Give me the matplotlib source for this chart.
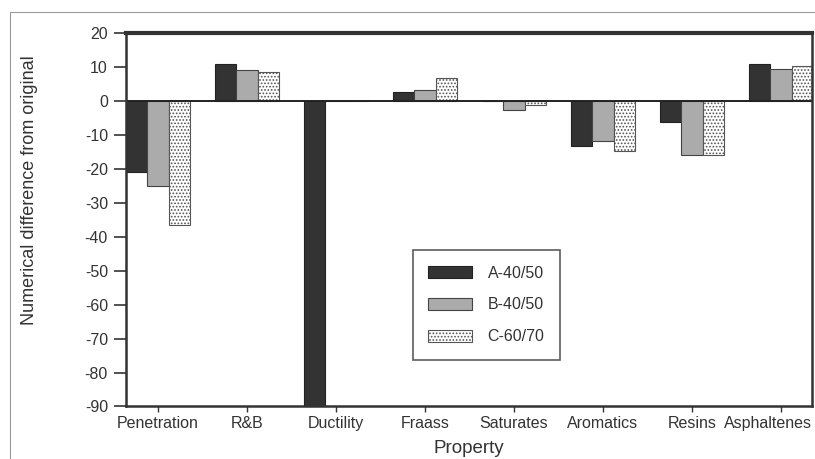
import numpy as np
import matplotlib
matplotlib.use("Agg")
import matplotlib.pyplot as plt
from matplotlib.patches import Rectangle
from matplotlib.transforms import ScaledTranslation

plt.rcParams['font.family'] = ['Liberation Sans', 'DejaVu Sans']
plt.rcParams['hatch.linewidth'] = 0.8
plt.rcParams['axes.unicode_minus'] = False

properties = ['Penetration', 'R&B', 'Ductility', 'Fraass', 'Saturates',
              'Aromatics', 'Resins', 'Asphaltenes']
a_40_50 = [-20.8, 10.8, -90, 2.6, 0, -13.2, -6.1, 11.0]
b_40_50 = [-25.0, 9.1, 0, 3.3, -2.6, -11.7, -15.8, 9.5]
c_60_70 = [-36.5, 8.6, 0, 6.9, -1.3, -14.7, -15.8, 10.2]
series_names = ['A-40/50', 'B-40/50', 'C-60/70']
y_ticks = list(range(-90, 21, 10))

fig = plt.figure(figsize=(8.15, 4.59), dpi=100)
# thin page frame
fig.patches.append(Rectangle((10 / 815, -0.05), 1.0, 1 - 12 / 459 + 0.05,
                             transform=fig.transFigure, fill=False,
                             edgecolor='#999999', linewidth=0.8))

ax = fig.add_axes([0.1546, 0.1144, 0.9963 - 0.1546, 0.928 - 0.1144])

x = np.arange(len(properties))
w = 0.24
ax.bar(x - w, a_40_50, w, color='#333333', edgecolor='#222222', linewidth=0.8,
       label=series_names[0])
ax.bar(x, b_40_50, w, color='#ababab', edgecolor='#444444', linewidth=0.8,
       label=series_names[1])
ax.bar(x + w, c_60_70, w, color='white', edgecolor='#555555', linewidth=0.8,
       hatch='.....', label=series_names[2])

ax.axhline(0, color='#222222', linewidth=1.4)

ax.set_xlim(-0.36, 7.35)
ax.set_ylim(-90, 20)
ax.set_yticks(y_ticks)
ax.set_xticks(x)
ax.set_xticklabels(properties)
ax.tick_params(axis='y', direction='out', length=9, width=1.2, labelsize=11.5,
               colors='#333333', pad=4)
ax.tick_params(axis='x', direction='out', length=4, width=1, labelsize=11.5,
               colors='#333333', pad=3)

# last label sits against the right edge
last = ax.get_xticklabels()[-1]
last.set_transform(last.get_transform() + ScaledTranslation(-0.13, 0, fig.dpi_scale_trans))

for side in ['left', 'bottom', 'right']:
    ax.spines[side].set_linewidth(1.8)
    ax.spines[side].set_color('#333333')
ax.spines['top'].set_linewidth(3)
ax.spines['top'].set_color('#333333')

ax.set_xlabel('Property', fontsize=13.5, color='#333333', labelpad=6)
ax.set_ylabel('Numerical difference from original', fontsize=13,
              color='#333333')
ax.yaxis.set_label_coords(-0.129, 0.58)

leg = ax.legend(loc='center', bbox_to_anchor=(0.5255, 0.272), fontsize=11.5,
                frameon=True, fancybox=False, edgecolor='#333333',
                handlelength=2.7, handleheight=0.8, labelspacing=1.05,
                borderpad=1.0, handletextpad=1.0, borderaxespad=0)
leg.get_frame().set_linewidth(1.2)
for t in leg.get_texts():
    t.set_color('#333333')

fig.savefig('out.png', dpi=100)
